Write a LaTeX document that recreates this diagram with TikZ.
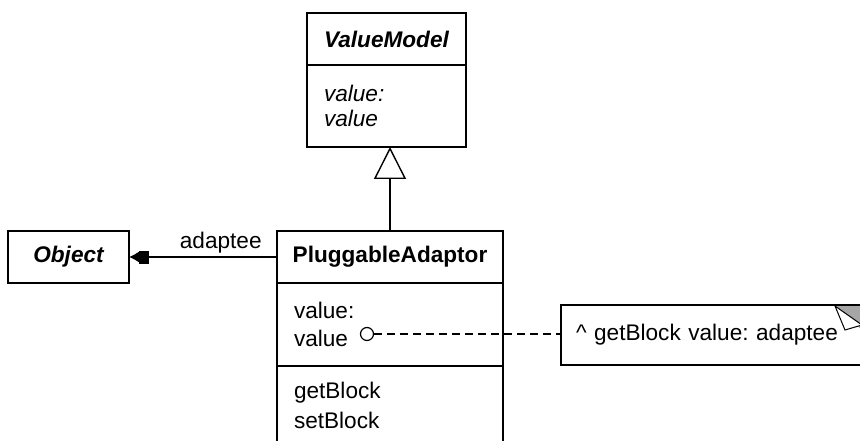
\documentclass[tikz,border=0pt]{standalone}
\usepackage{fontspec}
\setmainfont{Liberation Sans}
\usepackage{xcolor}
\usetikzlibrary{
  arrows.meta,
  positioning,
  calc
}
\definecolor{EarGray}{HTML}{A6A6A6}
\tikzset{
  compartment/.style={
    draw,
    line width=1.4pt,
    inner sep=0pt,
    outer sep=0pt,
    font=\fontsize{22.6}{29}\selectfont
  },
  classhead/.style={
    compartment,
    minimum height=52pt,
    font=\fontsize{22.6}{29}\selectfont\bfseries
  },
  abstracthead/.style={
    classhead,
    font=\fontsize{22.6}{29}\selectfont\bfseries\itshape
  },
  members/.style={
    compartment,
    align=left,
    inner xsep=17pt
  },
  notebox/.style={
    inner sep=0pt,
    outer sep=0pt,
    align=left,
    font=\fontsize{22.6}{29}\selectfont\frenchspacing
  },
  aggregation/.style={
    line width=1.4pt,
    -{Square[length=10pt,width=13pt] Latex[length=10pt,width=11pt]}
  },
  generalization/.style={
    line width=1.4pt,
    -{Triangle[open,fill=white,length=32pt,width=32pt]}
  },
  noteline/.style={
    line width=1.2pt,
    dash pattern=on 8pt off 5pt
  }
}

\begin{document}
\begin{tikzpicture}[x=1pt,y=-1pt]

  \clip (0,0) rectangle (860,441);

  % ValueModel
  \node[
    abstracthead,
    minimum width=159pt
  ] (vmhead) at (386.5,39) {ValueModel};

  \node[
    members,
    below=0pt of vmhead,
    text width=125pt,
    minimum height=82pt,
    font=\fontsize{22.6}{25}\selectfont\itshape
  ] (vmattrs) {
    value:\\
    value
  };

  % PluggableAdaptor
  \node[
    classhead,
    minimum width=226pt
  ] (pahead) at (390,257) {PluggableAdaptor};

  \node[
    members,
    below=0pt of pahead,
    text width=192pt,
    minimum height=83pt,
    font=\fontsize{22.6}{28}\selectfont
  ] (paattrs) {
    value:\\
    value
  };

  \node[
    members,
    below=0pt of paattrs,
    text width=192pt,
    minimum height=78pt,
    font=\fontsize{22.6}{30}\selectfont
  ] (paops) {
    getBlock\\
    setBlock
  };

  % Object
  \node[
    abstracthead,
    minimum width=121pt
  ] (object) at (68.5,257) {Object};

  % note
  \node[
    notebox,
    minimum width=301pt,
    minimum height=60pt,
    text width=271pt,
    inner xsep=15pt
  ] (note) at (711.5,335) {\^{} getBlock value: adaptee};

  \draw[line width=1.4pt]
    (note.north west) -- (note.north east) -- (note.south east)
    -- (note.south west) -- cycle;

  \fill[EarGray]
    (835,306) -- (862,306) -- (862,330) -- cycle;

  \draw[line width=1pt, fill=white]
    (835,306) -- (845,330) -- (862,325) -- cycle;

  \node[
    circle,
    draw,
    line width=1.2pt,
    minimum size=13pt,
    inner sep=0pt
  ] (dot) at (367,334) {};

  \draw[generalization]
    (pahead) -- (pahead |- vmattrs.south);

  \draw[aggregation]
    (pahead) --
    node[
      pos=0.38,
      above,
      font=\fontsize{22.6}{29}\selectfont
    ] {adaptee}
    (object);

  \draw[noteline]
    (dot) -- (dot -| note.west);

\end{tikzpicture}
\end{document}
